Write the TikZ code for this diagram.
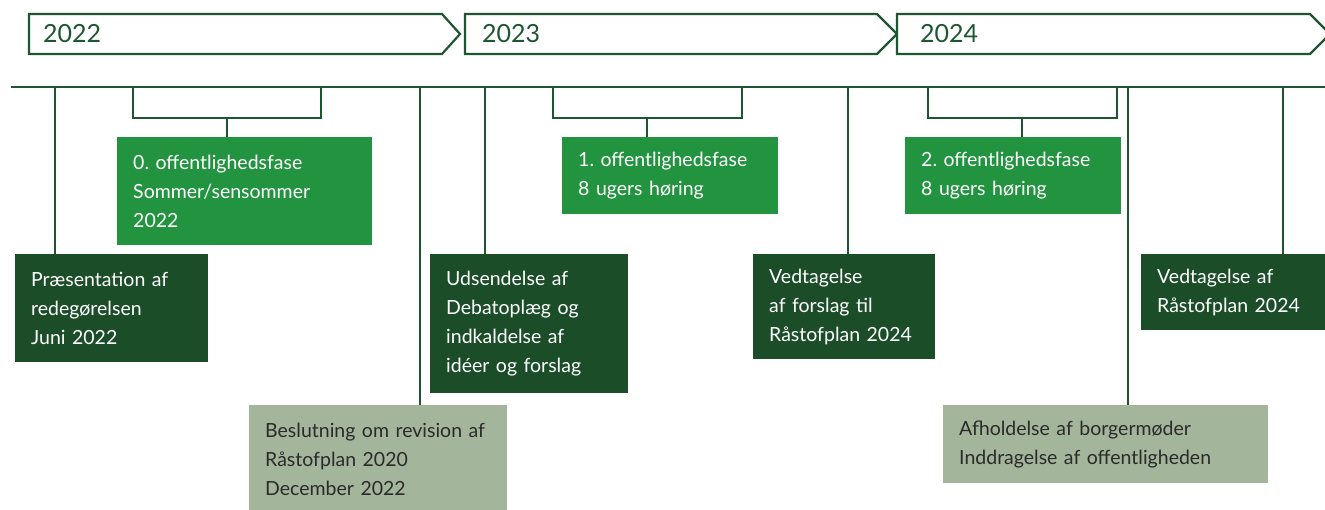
\documentclass[tikz,border=0pt]{standalone}
\usepackage{fontspec}
\setmainfont{Lato}
\usetikzlibrary{positioning}
\frenchspacing

\definecolor{darkgreen}{HTML}{1A4D28}
\definecolor{linegreen}{HTML}{1E5631}
\definecolor{lightgreen}{HTML}{22943F}
\definecolor{sage}{HTML}{A3B59B}
\definecolor{sagetext}{HTML}{2B2B2B}

\begin{document}
\begin{tikzpicture}[x=1pt, y=-1pt,
  yearbox/.style={draw=linegreen, line width=2.2pt, fill=white},
  yeartext/.style={anchor=west, inner sep=0pt, text=linegreen, font=\fontsize{25}{30}\selectfont},
  tick/.style={draw=linegreen, line width=2.6pt},
  box/.style={anchor=north west, inner xsep=16pt, inner ysep=0pt, align=left, font=\fontsize{19.5}{29}\selectfont},
  phase/.style={box, fill=lightgreen, text=white},
  event/.style={box, fill=darkgreen, text=white},
  decision/.style={box, fill=sage, text=sagetext}]
\useasboundingbox (0,0) rectangle (1325,509);

% year arrows
\draw [yearbox] (29,14) -- (442,14) -- (460,34) -- (442,54) -- (29,54) -- cycle;
\draw [yearbox] (465,14) -- (877,14) -- (897,34) -- (877,54) -- (465,54) -- cycle;
\draw [yearbox] (897,14) -- (1310,14) -- (1330,34) -- (1310,54) -- (897,54) -- cycle;
\node (Y22) [yeartext] at (43,34) {2022};
\node (Y23) [yeartext] at (482,34) {2023};
\node (Y24) [yeartext] at (920,34) {2024};

% timeline
\coordinate (START) at (11,87);
\coordinate (END) at (1325,87);
\draw [tick] (START) -- (END);

% boxes
\node (PHASE0) [phase, text width=223pt, minimum height=108pt] at (117,137) {0. offentlighedsfase\\Sommer/sensommer\\2022};
\node (PHASE1) [phase, text width=184pt, minimum height=77pt] at (562,137) {1. offentlighedsfase\\8 ugers høring};
\node (PHASE2) [phase, text width=184pt, minimum height=77pt] at (905,137) {2. offentlighedsfase\\8 ugers høring};
\node (PRES) [event, text width=161pt, minimum height=108pt] at (15,254) {Præsentation af\\redegørelsen\\Juni 2022};
\node (SEND) [event, text width=166pt, minimum height=139pt] at (430,254) {Udsendelse af\\Debatoplæg og\\indkaldelse af\\idéer og forslag};
\node (PROP) [event, text width=150pt, minimum height=105pt] at (753,254) {Vedtagelse\\af forslag til\\Råstofplan 2024};
\node (ADOPT) [event, text width=152pt, minimum height=76pt] at (1141,254) {Vedtagelse af\\Råstofplan 2024};
\node (REV) [decision, text width=226pt, minimum height=108pt] at (249,405) {Beslutning om revision af\\Råstofplan 2020\\December 2022};
\node (MEET) [decision, text width=293pt, minimum height=78pt] at (943,405) {Afholdelse af borgermøder\\Inddragelse af offentligheden};

% ticks
\coordinate (T1) at (55,87);
\coordinate (T2) at (420,87);
\coordinate (T3) at (485,87);
\coordinate (T4) at (848,87);
\coordinate (T5) at (1128,87);
\coordinate (T6) at (1283,87);
\draw [tick] (T1) -- (T1 |- PRES.north);
\draw [tick] (T2) -- (T2 |- REV.north);
\draw [tick] (T3) -- (T3 |- SEND.north);
\draw [tick] (T4) -- (T4 |- PROP.north);
\draw [tick] (T5) -- (T5 |- MEET.north);
\draw [tick] (T6) -- (T6 |- ADOPT.north);

% brackets
\coordinate (B0) at (227,118);
\coordinate (B1) at (647,118);
\coordinate (B2) at (1022,118);
\draw [tick] (133,87) -- (133,118) -- (321,118) -- (321,87);
\draw [tick] (553,87) -- (553,118) -- (742,118) -- (742,87);
\draw [tick] (928,87) -- (928,118) -- (1117,118) -- (1117,87);
\draw [tick] (B0) -- (B0 |- PHASE0.north);
\draw [tick] (B1) -- (B1 |- PHASE1.north);
\draw [tick] (B2) -- (B2 |- PHASE2.north);
\end{tikzpicture}
\end{document}
